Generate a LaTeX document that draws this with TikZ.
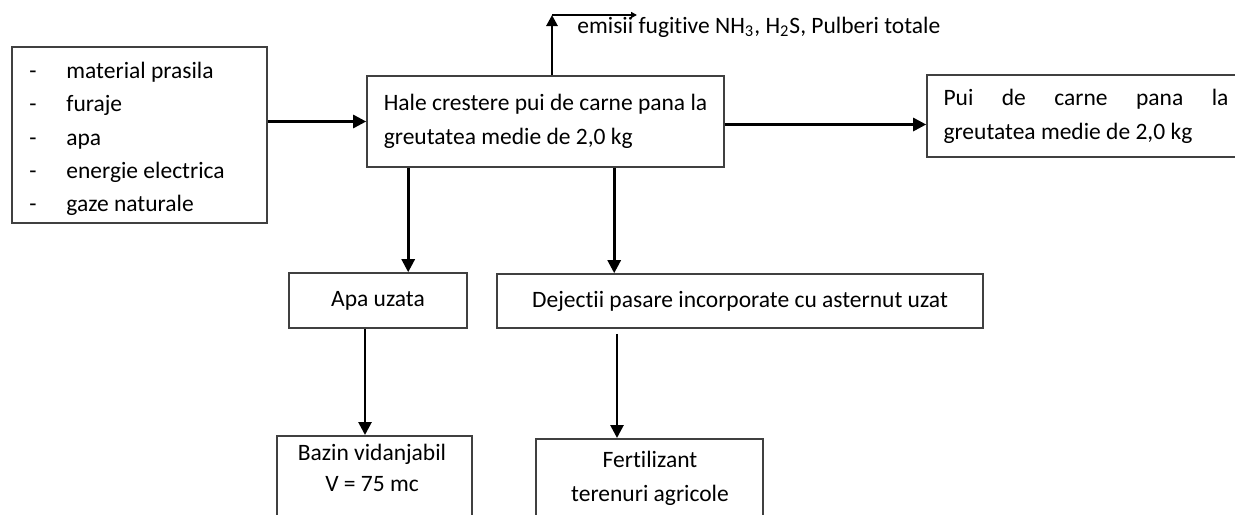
\documentclass[tikz,border=0pt]{standalone}
\usepackage{fontspec}
\setmainfont{Carlito}[Ligatures=NoCommon]
\usetikzlibrary{arrows.meta}
\tikzset{
  cutie/.style={draw=black!75, line width=.8pt, inner sep=0pt},
  scris/.style={font=\fontsize{11.75pt}{17pt}\selectfont, inner sep=0pt},
  sageata/.style={line width=1.35pt, -{Triangle[length=\len, width=\wid]}}
}

\begin{document}
\begin{tikzpicture}[x=0.5pt,y=-0.5pt]
\def\len{6.5pt}
\def\wid{6.5pt}
\clip (0,0) rectangle (1235,514);
% intrari
\node [cutie, minimum width=127.5pt, minimum height=88pt, name=intrari] at (139.5,135) {};
\node [scris, anchor=base west, name=m1] at (29,78) {\makebox[18.5pt][l]{-}material prasila};
\node [scris, anchor=base west, name=m2] at (29,111) {\makebox[18.5pt][l]{-}furaje};
\node [scris, anchor=base west, name=m3] at (29,145) {\makebox[18.5pt][l]{-}apa};
\node [scris, anchor=base west, name=m4] at (29,178) {\makebox[18.5pt][l]{-}energie electrica};
\node [scris, anchor=base west, name=m5] at (29,211) {\makebox[18.5pt][l]{-}gaze naturale};
% hala si produsul
\node [cutie, scris, minimum width=178.5pt, minimum height=45.5pt, align=left, name=hala] at (545.5,121.5) {Hale crestere pui de carne pana la\\greutatea medie de 2,0 kg};
\node [cutie, scris, minimum width=159pt, minimum height=41pt, align=left, name=pui] at (1086,116) {\hbox to 142.5pt{Pui\hfill de\hfill carne\hfill pana\hfill la}\\greutatea medie de 2,0 kg};
\node [scris, anchor=west, name=emisii] at (577,27) {emisii fugitive NH\textsubscript{3}, H\textsubscript{2}S, Pulberi totale};
\coordinate (colt) at (552,15);
\coordinate (capat) at (637,15);
% deseuri
\node [cutie, scris, minimum width=89pt, minimum height=27.5pt, name=apa] at (378,300.5) {Apa uzata};
\node [cutie, scris, minimum width=243pt, minimum height=27pt, name=dejectii] at (740,301) {Dejectii pasare incorporate cu asternut uzat};
\node [cutie, minimum width=97.5pt, minimum height=50pt, anchor=north, name=bazin] at (374.5,435) {};
\node [scris, align=center, font=\fontsize{11.75pt}{15.5pt}\selectfont, name=bazintxt] at (372,467.5) {Bazin vidanjabil\\V = 75 mc};
\node [cutie, minimum width=113.5pt, minimum height=50pt, anchor=north, name=fert] at (649.5,438) {};
\node [scris, align=center, name=ferttxt] at (650,478.5) {Fertilizant\\terenuri agricole};
% sageti
\coordinate (plecare1) at ([xshift=21pt]hala.south west);
\coordinate (plecare2) at ([xshift=124pt]hala.south west);
\coordinate (plecare3) at ([xshift=-6.5pt]apa.south);
\coordinate (plecare4) at ([xshift=-61.5pt, yshift=-2.5pt]dejectii.south);
\draw [sageata] (intrari.east |- hala.west) -- (hala.west);
\draw [sageata] ([yshift=-1.5pt]hala.east) -- ([yshift=-1.5pt]hala.east -| pui.west);
\draw [sageata, -{Triangle[length=5.5pt, width=5.5pt]}] (hala.north -| colt) -- (colt);
\draw [line width=1.35pt, -{Triangle[length=3pt, width=3pt]}] (colt) -- (capat);
\draw [sageata] (plecare1) -- (plecare1 |- apa.north);
\draw [sageata] (plecare2) -- (plecare2 |- dejectii.north);
\draw [sageata] (plecare3) -- (plecare3 |- bazin.north);
\draw [sageata] (plecare4) -- (plecare4 |- fert.north);
\end{tikzpicture}
\end{document}
